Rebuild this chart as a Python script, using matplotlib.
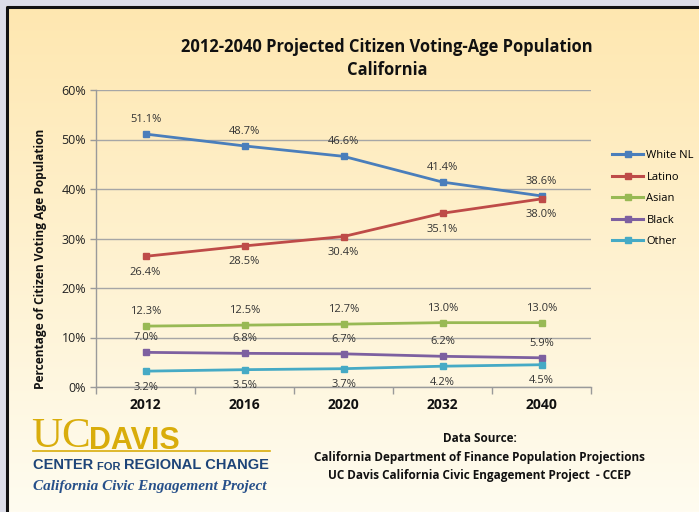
import numpy as np
import matplotlib
matplotlib.use("Agg")
import matplotlib.pyplot as plt
from matplotlib.lines import Line2D

# ---- data -------------------------------------------------------------
years = ["2012", "2016", "2020", "2032", "2040"]
white_nl = [51.1, 48.7, 46.6, 41.4, 38.6]
latino = [26.4, 28.5, 30.4, 35.1, 38.0]
asian = [12.3, 12.5, 12.7, 13.0, 13.0]
black = [7.0, 6.8, 6.7, 6.2, 5.9]
other = [3.2, 3.5, 3.7, 4.2, 4.5]
series_names = ["White NL", "Latino", "Asian", "Black", "Other"]
y_ticks = [0, 10, 20, 30, 40, 50, 60]

series_values = [white_nl, latino, asian, black, other]
colors = ["#4a7ebb", "#be4b48", "#98b954", "#7d60a0", "#46aac5"]
# label placement per series: +1 above the point, -1 below
label_side = [1, -1, 1, 1, -1]

FONT = "Open Sans"
W, H = 699, 512
fig = plt.figure(figsize=(W / 100, H / 100), dpi=100, facecolor="#dcdde8")

# ---- panel background with vertical gradient ---------------------------
bg = fig.add_axes([0, 0, 1, 1])
bg.set_xlim(0, W)
bg.set_ylim(H, 0)
bg.axis("off")
top_c = np.array([254, 231, 176]) / 255
bot_c = np.array([255, 252, 240]) / 255
t = np.linspace(0, 1, 256)[:, None]
grad = (top_c[None, :] * (1 - t) + bot_c[None, :] * t)[:, None, :]
bg.imshow(grad, extent=[6, W, H, 6], aspect="auto", zorder=0)
bg.plot([6.5, 6.5, W], [H, 6.5, 6.5], color="#111111", lw=2.2, zorder=1,
        solid_capstyle="butt")

# ---- main chart --------------------------------------------------------
ax = fig.add_axes([96 / W, (H - 387) / H, (591 - 96) / W, (387 - 90) / H])
ax.set_facecolor("none")
x = np.arange(len(years))
ax.set_xlim(-0.5, len(years) - 0.5)
ax.set_ylim(0, 60)

for vals, col in zip(series_values, colors):
    ax.plot(x, vals, color=col, lw=2.0, marker="s", ms=5,
            markeredgecolor=col, zorder=3)

label_font = dict(fontsize=8, color="#333333", family=FONT, ha="center")
for vals, side in zip(series_values, label_side):
    for j, v in enumerate(vals):
        off = 10.5 if side > 0 else -11.5
        ax.annotate(f"{v:.1f}%", (x[j], v), xytext=(0, off),
                    textcoords="offset points", va="center", **label_font)

ax.set_yticks(y_ticks)
ax.set_yticklabels([f"{v}%" for v in y_ticks], fontsize=9, family=FONT,
                   color="#222222")
ax.set_xticks(x)
ax.set_xticklabels(years, fontsize=10, family=FONT, fontweight="bold",
                   color="#111111")
ax.set_xticks(np.arange(-0.5, len(years)), minor=True)
ax.tick_params(axis="x", which="major", length=0, pad=8)
ax.tick_params(axis="x", which="minor", length=5, color="#9a9a9a", width=1)
ax.tick_params(axis="y", length=4, color="#9a9a9a", width=1, pad=3)
ax.grid(axis="y", color="#a6a6a6", lw=1)
ax.set_axisbelow(True)
for s in ["top", "right"]:
    ax.spines[s].set_visible(False)
for s in ["left", "bottom"]:
    ax.spines[s].set_color("#9a9a9a")
    ax.spines[s].set_linewidth(1)

ax.set_ylabel("Percentage of Citizen Voting Age Population", fontsize=8.6,
              family=FONT, fontweight="bold", color="#111111")
ax.yaxis.set_label_coords(-0.099, 0.43)

# ---- legend --------------------------------------------------------------
handles = [Line2D([], [], color=c, lw=2.2, marker="s", ms=4.5) for c in colors]
fig.legend(handles, series_names, loc="upper left",
           bbox_to_anchor=(602 / W, 1 - 140 / H), frameon=False,
           prop=dict(family=FONT, size=8), handlelength=2.8,
           labelspacing=0.95, handletextpad=0.3)

# ---- title -------------------------------------------------------------
fig.text(387 / W, 1 - 47 / H, "2012-2040 Projected Citizen Voting-Age Population",
         ha="center", va="center", fontsize=11.9, fontweight="bold",
         family=FONT, color="#111111")
fig.text(387 / W, 1 - 70 / H, "California", ha="center", va="center",
         fontsize=11.9, fontweight="bold", family=FONT, color="#111111")

# ---- data source ---------------------------------------------------------
src = ["Data Source:",
       "California Department of Finance Population Projections",
       "UC Davis California Civic Engagement Project  - CCEP"]
for k, line in enumerate(src):
    fig.text(480 / W, 1 - (438 + 19 * k) / H, line, ha="center", va="center",
             fontsize=8.5, fontweight="bold", family=FONT, color="#111111")

# ---- logo ----------------------------------------------------------------
gold = "#d9ad0b"
navy = "#1d4478"
uc = bg.text(31, 447, "UC", fontsize=31, family="Liberation Serif",
             color=gold, va="baseline", ha="left")
bg.annotate("DAVIS", xy=(1, 0), xycoords=uc, va="bottom", ha="left",
            fontsize=22, fontweight="bold", family="Liberation Sans",
            color=gold, xytext=(-1, 0), textcoords="offset points")
bg.plot([33, 270], [451, 451], color=gold, lw=1.2)
c1 = bg.text(33, 469, "CENTER ", fontsize=10.5, fontweight="bold",
             family="Liberation Sans", color=navy, va="baseline", ha="left")
c2 = bg.annotate("FOR ", xy=(1, 0), xycoords=c1, fontsize=8, fontweight="bold",
                 family="Liberation Sans", color=navy, va="bottom", ha="left")
bg.annotate("REGIONAL CHANGE", xy=(1, 0), xycoords=c2, fontsize=10.5,
            fontweight="bold", family="Liberation Sans", color=navy,
            va="bottom", ha="left")
bg.text(33, 490, "California Civic Engagement Project", fontsize=11,
        family="Liberation Serif", style="italic", fontweight="bold",
        color="#27508a", va="baseline", ha="left")

fig.savefig("out.png", dpi=100, facecolor=fig.get_facecolor())
